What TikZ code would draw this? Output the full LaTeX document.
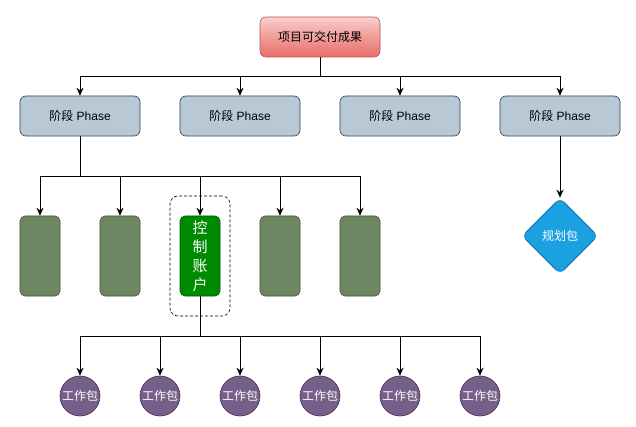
\documentclass[tikz,border=0pt]{standalone}
\usepackage{fontspec}
\setmainfont{Liberation Sans}
\newfontfamily\cjk{Noto Sans CJK SC}
\usetikzlibrary{arrows.meta,shapes.geometric,positioning}
\definecolor{topA}{HTML}{F8CECC}
\definecolor{topB}{HTML}{EA6B66}
\definecolor{topD}{HTML}{B85450}
\definecolor{phF}{HTML}{BAC8D3}
\definecolor{phD}{HTML}{23445D}
\definecolor{grF}{HTML}{6D8764}
\definecolor{grD}{HTML}{3A5431}
\definecolor{ctF}{HTML}{008A00}
\definecolor{ctD}{HTML}{005700}
\definecolor{blF}{HTML}{1BA1E2}
\definecolor{blD}{HTML}{006EAF}
\definecolor{puF}{HTML}{76608A}
\definecolor{puD}{HTML}{432D57}
\tikzset{
  conn/.style={draw=black, line width=0.8pt},
  arr/.style={conn, -{Stealth[length=8pt,width=7pt]}},
  topbox/.style={draw=topD, rounded corners=6pt, minimum width=120pt, minimum height=40pt, top color=topA, bottom color=topB, font=\cjk\fontsize{12}{14}\selectfont, text=black, line width=0.6pt},
  phasebox/.style={draw=phD, fill=phF, rounded corners=6pt, minimum width=120pt, minimum height=40pt, font=\fontsize{12}{14}\selectfont, line width=0.6pt},
  greenbox/.style={draw=grD, fill=grF, rounded corners=5pt, minimum width=40pt, minimum height=80pt, line width=0.6pt},
  ctrlbox/.style={draw=ctD, fill=ctF, rounded corners=5pt, minimum width=40pt, minimum height=80pt, line width=0.6pt, text=white, font=\cjk\fontsize{15}{19}\selectfont, align=center},
  groupbox/.style={draw=black, dash pattern=on 3pt off 2pt, rounded corners=8pt, minimum width=60pt, minimum height=120pt, line width=0.6pt},
  diam/.style={diamond, draw=blD, fill=blF, rounded corners=6pt, minimum width=76pt, minimum height=76pt, inner sep=0pt, text=white, font=\cjk\fontsize{12}{14}\selectfont, line width=0.6pt},
  wp/.style={circle, draw=puD, fill=puF, minimum size=40pt, inner sep=0pt, text=white, font=\cjk\fontsize{12}{14}\selectfont, line width=0.6pt},
}
\begin{document}
\begin{tikzpicture}[x=1pt,y=-1pt]
\useasboundingbox (0,0) rectangle (636,427);
\node[topbox] (top) at (320,37) {项目可交付成果};
\node[phasebox] (p1) at (80,116) {{\cjk 阶段} Phase};
\node[phasebox] (p2) at (240,116) {{\cjk 阶段} Phase};
\node[phasebox] (p3) at (400,116) {{\cjk 阶段} Phase};
\node[phasebox] (p4) at (560,116) {{\cjk 阶段} Phase};
\coordinate (h1) at (320,76);
\draw[conn] (top.south) -- (h1);
\draw[arr] (h1) -| (p1.north);
\draw[arr] (h1) -| (p2.north);
\draw[arr] (h1) -| (p3.north);
\draw[arr] (h1) -| (p4.north);

\node[groupbox] (grp) at (200,256) {};
\node[greenbox] (g1) at (40,256) {};
\node[greenbox] (g2) at (120,256) {};
\node[ctrlbox] (ctrl) at (200,256) {控\\制\\账\\户};
\node[greenbox] (g4) at (280,256) {};
\node[greenbox] (g5) at (360,256) {};
\coordinate (h2) at (80,176);
\draw[conn] (p1.south) -- (h2);
\draw[arr] (h2) -| (g1.north);
\draw[arr] (h2) -| (g2.north);
\draw[arr] (h2) -| (ctrl.north);
\draw[arr] (h2) -| (g4.north);
\draw[arr] (h2) -| (g5.north);

\node[diam] (plan) at (560,236) {规划包};
\draw[arr] (p4.south) -- (plan.north);

\foreach \i/\x in {1/80,2/160,3/240,4/320,5/400,6/480}{
  \node[wp] (w\i) at (\x,396) {工作包};
}
\coordinate (h3) at (200,336);
\draw[conn] (ctrl.south) -- (h3);
\foreach \i in {1,...,6}{
  \draw[arr] (h3) -| (w\i.north);
}
\end{tikzpicture}
\end{document}
